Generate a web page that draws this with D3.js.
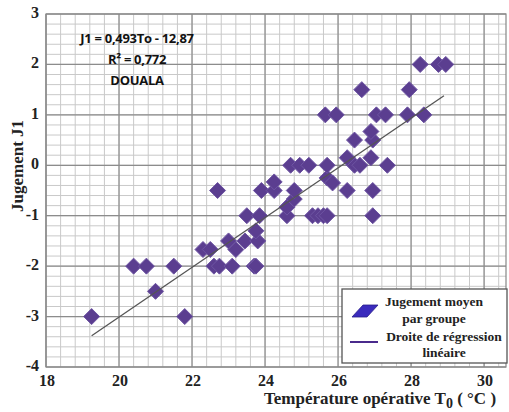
<!DOCTYPE html>
<html>
<head>
<meta charset="utf-8">
<script src="https://cdn.jsdelivr.net/npm/d3@7"></script>
<style>
  body { margin: 0; background: #fff; }
  svg { display: block; }
  .tick-label { font-family: "Liberation Serif", "Times New Roman", serif; font-weight: bold; font-size: 16px; fill: #222; }
  .axis-title { font-family: "Liberation Serif", "Times New Roman", serif; font-weight: bold; font-size: 17px; fill: #222; }
  .note { font-family: "Open Sans", "Liberation Sans", Arial, sans-serif; font-weight: bold; font-size: 13px; fill: #111; letter-spacing: -0.3px; }
  .legend-text { font-family: "Liberation Serif", "Times New Roman", serif; font-weight: bold; font-size: 13.5px; fill: #222; }
</style>
</head>
<body>
<div id="chart"></div>
<script>
var svgWidth = 509;
var svgHeight = 412;

var margin = { top: 14, right: 3, bottom: 45, left: 46 };
var width = svgWidth - margin.left - margin.right;
var height = svgHeight - margin.top - margin.bottom;

// mean judgement per group
var temperature = [
  19.25, 21.8,
  21.0,
  20.4, 20.75, 21.5, 22.6, 22.75, 23.1, 23.7, 23.75,
  22.3, 22.5, 23.2,
  23.0, 23.45, 23.8,
  23.75,
  23.5, 23.85, 24.6, 25.3, 25.45, 25.6, 25.7, 26.95,
  24.6,
  24.8,
  22.7, 23.9, 24.25, 24.8, 26.25, 26.95,
  24.25, 25.7, 25.85,
  24.7, 24.95, 25.2, 25.7, 26.45, 26.6, 27.35,
  26.25, 26.9,
  26.45, 26.95,
  26.9,
  25.65, 25.95, 27.05, 27.3, 27.9, 28.35,
  26.65, 27.95,
  28.25, 28.75, 28.95
];
var judgement = [
  -3, -3,
  -2.5,
  -2, -2, -2, -2, -2, -2, -2, -2,
  -1.67, -1.67, -1.67,
  -1.5, -1.5, -1.5,
  -1.3,
  -1, -1, -1, -1, -1, -1, -1, -1,
  -0.83,
  -0.67,
  -0.5, -0.5, -0.5, -0.5, -0.5, -0.5,
  -0.33, -0.25, -0.35,
  0, 0, 0, 0, 0, 0, 0,
  0.15, 0.15,
  0.5, 0.5,
  0.67,
  1, 1, 1, 1, 1, 1,
  1.5, 1.5,
  2, 2, 2
];

var xTicks = [18, 20, 22, 24, 26, 28, 30];
var yTicks = [3, 2, 1, 0, -1, -2, -3, -4];

// J1 = 0,493 To - 12,87
var slope = 0.493;
var intercept = -12.87;
var lineRange = [19.25, 28.9];

var noteLines = ["J1 = 0,493To - 12,87", "R² = 0,772", "DOUALA"];
var legendLabels = [["Jugement moyen", "par groupe"], ["Droite de régression", "linéaire"]];

var svg = d3.select("#chart")
  .append("svg")
  .attr("width", svgWidth)
  .attr("height", svgHeight);

var chartGroup = svg.append("g")
  .attr("transform", `translate(${margin.left}, ${margin.top})`);

var xScale = d3.scaleLinear().domain([18, 30.6]).range([0, width]);
var yScale = d3.scaleLinear().domain([-4, 3]).range([height, 0]);

// minor grid
var xMinor = d3.range(18, 30.61, 0.4);
var yMinor = d3.range(-4, 3.01, 0.2);

chartGroup.append("g").selectAll("line")
  .data(xMinor)
  .enter()
  .append("line")
  .attr("x1", d => xScale(d)).attr("x2", d => xScale(d))
  .attr("y1", 0).attr("y2", height)
  .attr("stroke", "#c9c9c9").attr("stroke-width", 1);

chartGroup.append("g").selectAll("line")
  .data(yMinor)
  .enter()
  .append("line")
  .attr("x1", 0).attr("x2", width)
  .attr("y1", d => yScale(d)).attr("y2", d => yScale(d))
  .attr("stroke", "#c9c9c9").attr("stroke-width", 1);

// major grid
chartGroup.append("g").selectAll("line")
  .data(xTicks)
  .enter()
  .append("line")
  .attr("x1", d => xScale(d)).attr("x2", d => xScale(d))
  .attr("y1", 0).attr("y2", height)
  .attr("stroke", "#8c8c8c").attr("stroke-width", 1.2);

chartGroup.append("g").selectAll("line")
  .data(yTicks)
  .enter()
  .append("line")
  .attr("x1", 0).attr("x2", width)
  .attr("y1", d => yScale(d)).attr("y2", d => yScale(d))
  .attr("stroke", "#8c8c8c").attr("stroke-width", 1.2);

// frame
chartGroup.append("rect")
  .attr("width", width).attr("height", height)
  .attr("fill", "none").attr("stroke", "#888").attr("stroke-width", 1.2);

// tick labels
chartGroup.append("g").selectAll("text")
  .data(xTicks)
  .enter()
  .append("text")
  .attr("class", "tick-label")
  .attr("x", d => xScale(d) + 1)
  .attr("y", height + 19)
  .attr("text-anchor", "middle")
  .text(d => d);

chartGroup.append("g").selectAll("text")
  .data(yTicks)
  .enter()
  .append("text")
  .attr("class", "tick-label")
  .attr("x", -7)
  .attr("y", d => yScale(d) + 4)
  .attr("text-anchor", "end")
  .text(d => d);

// axis titles
var xTitle = svg.append("text")
  .attr("class", "axis-title")
  .attr("x", 380)
  .attr("y", 404)
  .attr("text-anchor", "middle");
xTitle.append("tspan").text("Température opérative T");
xTitle.append("tspan").attr("dy", 4).attr("font-size", "14px").text("0");
xTitle.append("tspan").attr("dy", -4).text(" ( °C )");

svg.append("text")
  .attr("class", "axis-title")
  .attr("transform", "rotate(-90)")
  .attr("x", -166)
  .attr("y", 23)
  .attr("text-anchor", "middle")
  .text("Jugement J1");

// data points
var points = temperature.map((t, i) => ({ t: t, j: judgement[i] }));
var diamond = "M0,-8L8,0L0,8L-8,0Z";

chartGroup.append("g").selectAll("path")
  .data(points)
  .enter()
  .append("path")
  .attr("d", diamond)
  .attr("transform", d => `translate(${xScale(d.t)}, ${yScale(d.j)})`)
  .attr("fill", "#5b3e90")
  .attr("stroke", "#6e55a3")
  .attr("stroke-width", 1);

// regression line
chartGroup.append("line")
  .attr("x1", xScale(lineRange[0]))
  .attr("y1", yScale(slope * lineRange[0] + intercept))
  .attr("x2", xScale(lineRange[1]))
  .attr("y2", yScale(slope * lineRange[1] + intercept))
  .attr("stroke", "#555")
  .attr("stroke-width", 1.3);

// equation note
svg.append("g").selectAll("text")
  .data(noteLines)
  .enter()
  .append("text")
  .attr("class", "note")
  .attr("x", 137)
  .attr("y", (d, i) => 43 + i * 21)
  .attr("text-anchor", "middle")
  .text(d => d);

// legend
var legend = svg.append("g");
legend.append("rect")
  .attr("x", 342).attr("y", 289)
  .attr("width", 165).attr("height", 74)
  .attr("fill", "#fff")
  .attr("stroke", "#555").attr("stroke-width", 1.3);

legend.append("path")
  .attr("d", "M352,317L363,305L378,305L367,317Z")
  .attr("fill", "#3a2bbd")
  .attr("stroke", "#2a1f8a").attr("stroke-width", 0.8);

legend.append("line")
  .attr("x1", 350).attr("x2", 378)
  .attr("y1", 342).attr("y2", 342)
  .attr("stroke", "#4a2a8c").attr("stroke-width", 2);

legend.append("text").attr("class", "legend-text")
  .attr("x", 434).attr("y", 306).attr("text-anchor", "middle").text(legendLabels[0][0]);
legend.append("text").attr("class", "legend-text")
  .attr("x", 434).attr("y", 323).attr("text-anchor", "middle").text(legendLabels[0][1]);
legend.append("text").attr("class", "legend-text")
  .attr("x", 444).attr("y", 341).attr("text-anchor", "middle").text(legendLabels[1][0]);
legend.append("text").attr("class", "legend-text")
  .attr("x", 444).attr("y", 357).attr("text-anchor", "middle").text(legendLabels[1][1]);
</script>
</body>
</html>
